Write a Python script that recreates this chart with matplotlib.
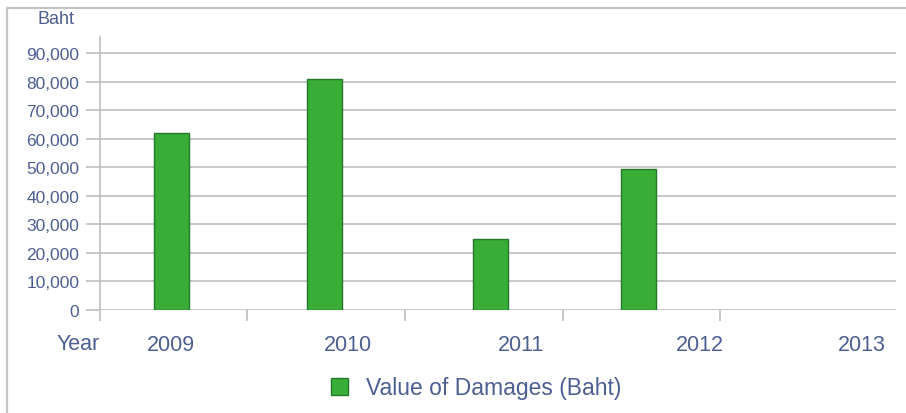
import matplotlib.pyplot as plt
from matplotlib.lines import Line2D
from matplotlib.ticker import FuncFormatter

years = ["2009", "2010", "2011", "2012", "2013"]
bar_years = ["2009", "2010", "2011", "2012"]
damages = [62000, 80800, 24800, 49500]
series_name = "Value of Damages (Baht)"

TEXT = "#4d5e92"
GRID = "#bdbdbd"
BAR = "#3aad37"
EDGE = "#23792a"

W, H = 906, 414
fig = plt.figure(figsize=(W / 100, H / 100), dpi=100)
plt.rcParams["font.family"] = ["Liberation Sans", "DejaVu Sans"]

# outer frame: only its left and top edges are in the crop
fx, fy = 7 / W, 1 - 9 / H
fig.lines.append(Line2D([fx, fx, 1.0], [0.0, fy, fy], transform=fig.transFigure,
                        color="#c4c4c4", linewidth=1.6))

# axes box: x 100..896 px, y 38..311 px
ax = fig.add_axes([100 / W, (H - 311) / H, (896 - 100) / W, (311 - 38) / H])

slot = 157.7
x_left = -0.5 + (100 - 89.5) / slot
x_right = -0.5 + (896 - 89.5) / slot
ax.set_xlim(x_left, x_right)
ax.set_ylim(0, 95600)

# bars sit slightly off the slot centres in the original
bar_shift = [0.02, -0.01, 0.04, -0.02]
xpos = [i + s for i, s in enumerate(bar_shift)]
bars = ax.bar(xpos, damages, width=35 / slot, color=BAR, edgecolor=EDGE,
              linewidth=1.0, label=series_name, zorder=3)

# gridlines
ax.set_yticks(range(0, 90001, 10000))
ax.yaxis.set_major_formatter(FuncFormatter(lambda v, p: f"{int(v):,}"))
ax.grid(axis="y", color=GRID, linewidth=1.2, zorder=0)
ax.tick_params(axis="y", length=10, width=1.2, color=GRID, pad=5,
               labelsize=12.5, labelcolor=TEXT)

# category separator ticks below the axis
ax.set_xticks([x_left] + [i + 0.5 for i in range(4)])
ax.set_xticklabels([])
ax.tick_params(axis="x", length=8, width=1.2, color=GRID, direction="out")

for side in ["top", "right", "bottom"]:
    ax.spines[side].set_visible(False)
ax.spines["left"].set_color(GRID)
ax.spines["left"].set_linewidth(1.2)

# year labels (spaced a little wider than the slots in the original)
label_x = [0.017, 1.139, 2.236, 3.371, 4.398]
for lx, yr in zip(label_x, years):
    ax.text(lx, -0.125, yr, transform=ax.get_xaxis_transform(),
            ha="center", va="center", fontsize=15.5, color=TEXT)

fig.text(78 / W, 1 - 345 / H, "Year", ha="center", va="center",
         fontsize=15.5, color=TEXT)
fig.text(56 / W, 1 - 20 / H, "Baht", ha="center", va="center",
         fontsize=13, color=TEXT)

fig.legend(handles=[bars], labels=[series_name], loc="center",
           bbox_to_anchor=(476 / W, 1 - 389 / H), frameon=False,
           fontsize=16.5, handlelength=0.75, handleheight=0.75,
           handletextpad=0.8, labelcolor=TEXT)

fig.savefig("out.png", dpi=100)
